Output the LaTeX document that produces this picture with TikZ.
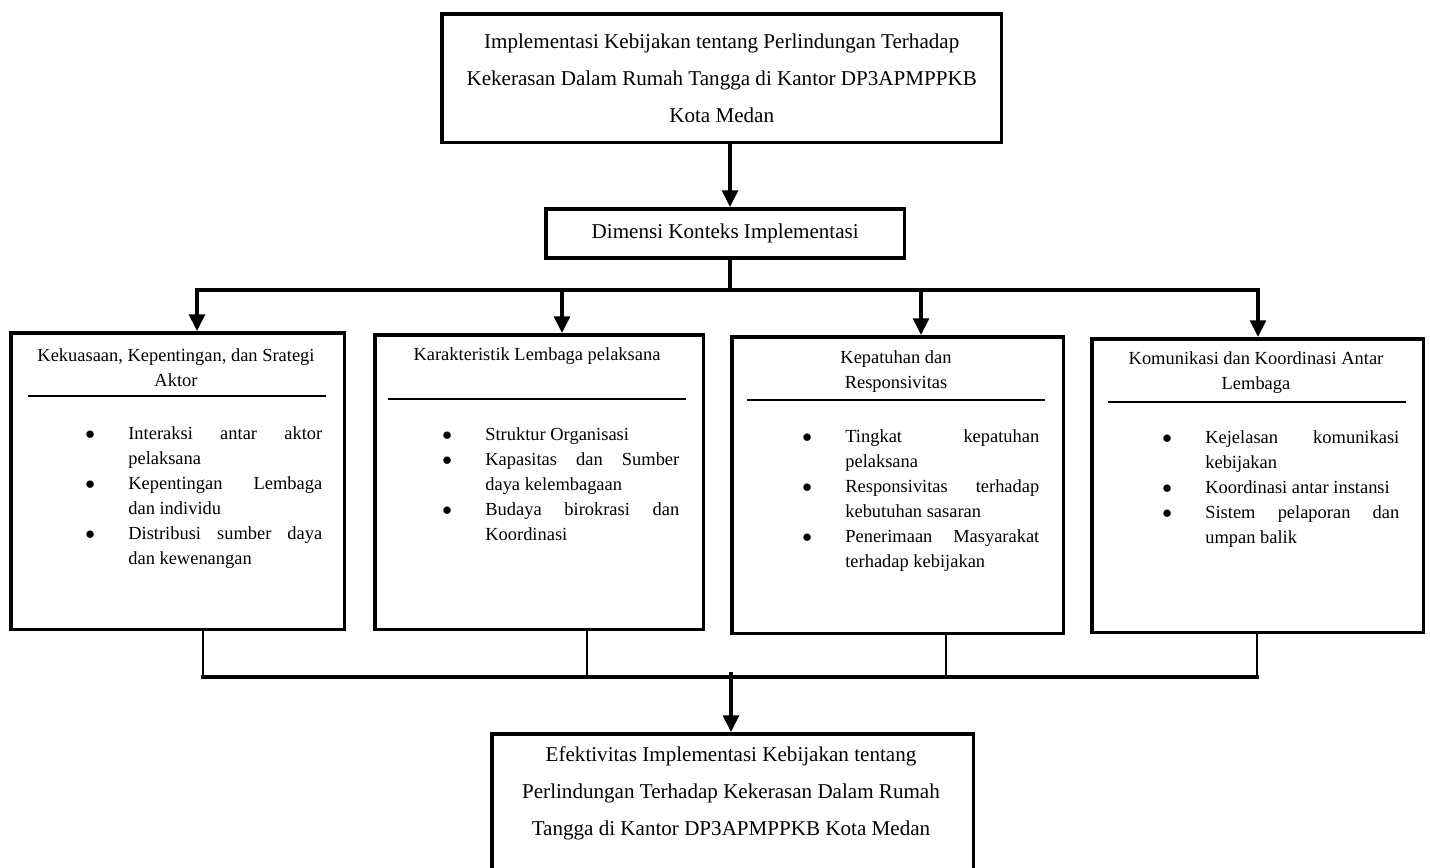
\documentclass[tikz,border=0pt]{standalone}
\usepackage{fontspec}
\setmainfont{Liberation Serif}
\usetikzlibrary{arrows.meta,positioning}

\tikzset{
  box/.style={draw, line width=2pt, anchor=north west, inner sep=0pt},
  big/.style={align=center, inner sep=0pt, font=\fontsize{12}{21}\selectfont},
  ttl/.style={align=center, inner sep=0pt, font=\fontsize{10.5}{14.2}\selectfont},
  lst/.style={text width=4.74cm, align=justify, anchor=north west, inner sep=0pt,
    font=\fontsize{10.5}{14.2}\selectfont},
  arr/.style={line width=2pt, -{Triangle[length=9.5pt,width=9pt]}},
  link/.style={line width=2pt, line cap=rect},
  stub/.style={line width=1.3pt},
  hbus/.style={line width=1.8pt, line cap=rect},
  rulel/.style={line width=1.3pt}
}
\newcommand{\bul}[1]{\par\hyphenpenalty=10000\relax\noindent\hangindent=0.86cm\relax
  \hbox to 0.86cm{$\bullet$\hfil}#1\par}

\begin{document}
\begin{tikzpicture}[x=0.02cm,y=-0.02cm]
\useasboundingbox (0,0) rectangle (1430,868);
% top and dimension boxes
\node[box,big,minimum width=11.2cm,minimum height=2.58cm] (top) at (440,12)
  {Implementasi Kebijakan tentang Perlindungan Terhadap\\Kekerasan Dalam Rumah Tangga di Kantor DP3APMPPKB\\Kota Medan};
\node[box,big,minimum width=7.18cm,minimum height=0.98cm] (dim) at (544,207) {Dimensi Konteks Implementasi};

% the four factor boxes
\node[box,minimum width=6.68cm,minimum height=5.94cm] (k1) at (9,331) {};
\node[box,minimum width=6.58cm,minimum height=5.9cm] (k2) at (373,333) {};
\node[box,minimum width=6.64cm,minimum height=5.94cm] (k3) at (730,335) {};
\node[box,minimum width=6.64cm,minimum height=5.88cm] (k4) at (1090,337) {};

\node[ttl] (k1t) at (176,368) {Kekuasaan, Kepentingan, dan Srategi\\Aktor};
\node[ttl] (k2t) at (537,356) {Karakteristik Lembaga pelaksana};
\node[ttl] (k3t) at (896,372) {Kepatuhan dan\\Responsivitas};
\node[ttl] (k4t) at (1256,373) {Komunikasi dan Koordinasi Antar\\Lembaga};

\draw[rulel] (28,396) -- (326,396);
\draw[rulel] (388,399) -- (686,399);
\draw[rulel] (747,400) -- (1045,400);
\draw[rulel] (1108,402) -- (1406,402);

\node[lst] (k1l) at (85,414) {%
  \bul{Interaksi antar aktor\linebreak pelaksana}%
  \bul{Kepentingan Lembaga\linebreak dan individu}%
  \bul{Distribusi sumber daya\linebreak dan kewenangan}};
\node[lst] (k2l) at (442,415) {%
  \bul{Struktur Organisasi}%
  \bul{Kapasitas dan Sumber\linebreak daya kelembagaan}%
  \bul{Budaya birokrasi dan\linebreak Koordinasi}};
\node[lst] (k3l) at (802,417) {%
  \bul{Tingkat kepatuhan\linebreak pelaksana}%
  \bul{Responsivitas terhadap\linebreak kebutuhan sasaran}%
  \bul{Penerimaan Masyarakat\linebreak terhadap kebijakan}};
\node[lst] (k4l) at (1162,418) {%
  \bul{Kejelasan komunikasi\linebreak kebijakan}%
  \bul{Koordinasi antar instansi}%
  \bul{Sistem pelaporan dan\linebreak umpan balik}};

% result box
\node[box,minimum width=9.64cm,minimum height=3cm] (bot) at (490,732) {};
\node[big] (bott) at (731,793)
  {Efektivitas Implementasi Kebijakan tentang\\Perlindungan Terhadap Kekerasan Dalam Rumah\\Tangga di Kantor DP3APMPPKB Kota Medan};

% connectors
\coordinate (bus) at (730,290);
\draw[arr] (top.south -| bus) -- (dim.north -| bus);
\draw[link] (dim.south -| bus) -- (bus);
\foreach \i/\x in {1/197,2/562,3/921,4/1258}{
  \coordinate (d\i) at (\x,290);
  \draw[arr] (d\i) -- (d\i |- k\i.north);
}
\draw[link] (d1) -- (d4);
\foreach \i/\x in {1/203,2/587,3/946,4/1257}{
  \coordinate (u\i) at (\x,677);
  \draw[stub] (u\i |- k\i.south) -- (u\i);
}
\draw[hbus] (u1) -- (u4);
\coordinate (m) at (731,672);
\draw[arr] (m) -- (bot.north -| m);
\end{tikzpicture}
\end{document}
